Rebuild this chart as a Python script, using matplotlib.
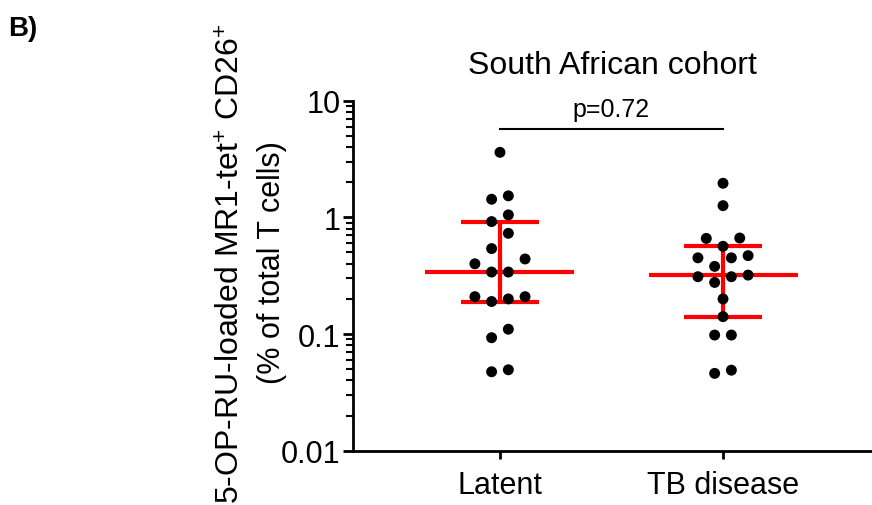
import numpy as np
import matplotlib
matplotlib.use("Agg")
import matplotlib.pyplot as plt
from matplotlib.ticker import LogLocator, FixedLocator, FixedFormatter, NullFormatter

plt.rcParams['font.family'] = ['Liberation Sans', 'DejaVu Sans']
plt.rcParams['mathtext.fontset'] = 'custom'
plt.rcParams['mathtext.rm'] = 'Liberation Sans'
plt.rcParams['mathtext.it'] = 'Liberation Sans:italic'
plt.rcParams['mathtext.bf'] = 'Liberation Sans:bold'

# ---------------- data ----------------
categories = ["Latent", "TB disease"]
latent = [3.61, 1.43, 1.53, 1.05, 0.92, 0.73, 0.54, 0.44, 0.40, 0.34, 0.34,
          0.209, 0.19, 0.20, 0.209, 0.110, 0.093, 0.0475, 0.0494]
tb_disease = [1.96, 1.26, 0.66, 0.665, 0.565, 0.45, 0.45, 0.47, 0.38, 0.31,
              0.277, 0.31, 0.32, 0.20, 0.141, 0.098, 0.098, 0.046, 0.049]
medians = [0.34, 0.32]
q1 = [0.19, 0.141]
q3 = [0.92, 0.565]
p_text = "p=0.72"
p_y = 5.7
ytick_vals = [0.01, 0.1, 1, 10]
ytick_labels = ["0.01", "0.1", "1", "10"]
title = "South African cohort"
ylabel_line1 = r"5-OP-RU-loaded MR1-tet$^{+}$ CD26$^{+}$"
ylabel_line2 = "(% of total T cells)"

# ---------------- layout ----------------
W, H = 872, 506
fig = plt.figure(figsize=(W / 100, H / 100), dpi=100)
ax = fig.add_axes([353 / W, (H - 451.7) / H, (W - 353) / W, (451.7 - 101.7) / H])

ax.set_yscale('log')
ax.set_ylim(0.01, 10)
ax.set_xlim(-0.659, 1.668)

ROW_TOL = 0.137   # decades grouped into one swarm row
STEP = 0.075      # horizontal spacing inside a row (axis units)


def swarm_offsets(values):
    vals = np.asarray(values, dtype=float)
    order = np.argsort(vals)
    logs = np.log10(vals)
    offs = np.zeros(len(vals))
    rows, cur = [], [order[0]]
    for idx in order[1:]:
        if logs[idx] - logs[cur[0]] < ROW_TOL:
            cur.append(idx)
        else:
            rows.append(cur)
            cur = [idx]
    rows.append(cur)
    for row in rows:
        n = len(row)
        slots = [(i - (n - 1) / 2) * STEP for i in range(n)]
        slots = sorted(slots, key=lambda s: (abs(s), s))
        for idx, s in zip(row, slots):
            offs[idx] = s
    return offs


red = '#FF0000'
for i, vals in enumerate([latent, tb_disease]):
    ax.hlines(medians[i], i - 0.334, i + 0.334, color=red, lw=3, zorder=2)
    ax.hlines([q1[i], q3[i]], i - 0.177, i + 0.177, color=red, lw=3, zorder=2)
    ax.vlines(i, q1[i], q3[i], color=red, lw=3, zorder=2)
    offs = swarm_offsets(vals)
    ax.scatter(i + offs, vals, s=62, color='black', edgecolors='none', zorder=3)

# significance bar
ax.plot([0, 1], [p_y, p_y], color='black', lw=1.5, clip_on=False)
ax.annotate(p_text, xy=(0.5, p_y), xytext=(0, 6), textcoords='offset points',
            ha='center', va='bottom', fontsize=18)

# axes styling
for s in ['top', 'right']:
    ax.spines[s].set_visible(False)
for s in ['left', 'bottom']:
    ax.spines[s].set_linewidth(2)

ax.set_xticks(range(len(categories)))
ax.set_xticklabels(categories, fontsize=22)
ax.tick_params(axis='x', length=6, width=2, pad=8)

ax.yaxis.set_major_locator(FixedLocator(ytick_vals))
ax.yaxis.set_major_formatter(FixedFormatter(ytick_labels))
ax.yaxis.set_minor_locator(LogLocator(base=10, subs=np.arange(2, 10)))
ax.yaxis.set_minor_formatter(NullFormatter())
ax.tick_params(axis='y', which='major', length=7, width=2, labelsize=22, pad=2)
ax.tick_params(axis='y', which='minor', length=5, width=1.5)

ax.set_title(title, fontsize=23, pad=20)

fig.text(232 / W, 1 - 264 / H, ylabel_line1, rotation=90, fontsize=23,
         ha='center', va='center')
fig.text(272 / W, 1 - 263 / H, ylabel_line2, rotation=90, fontsize=22,
         ha='center', va='center')
fig.text(8 / W, 1 - 29 / H, "B)", fontsize=20, fontweight='bold',
         ha='left', va='center')

fig.savefig("out.png", dpi=100)
